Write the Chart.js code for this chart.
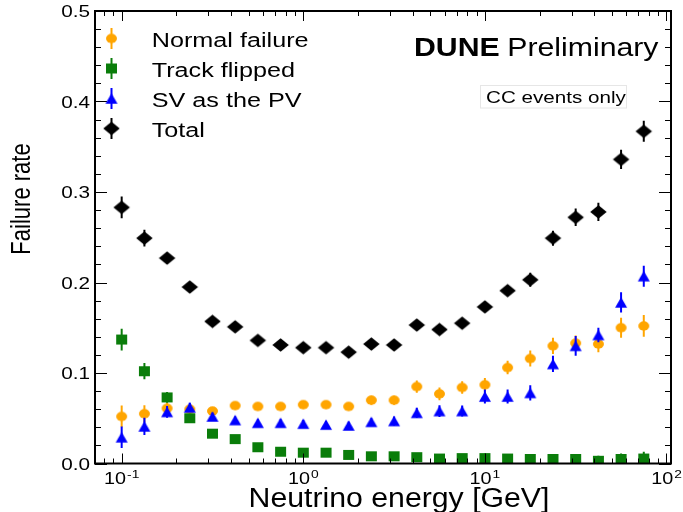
<!DOCTYPE html>
<html>
<head>
<meta charset="utf-8">
<script src="https://cdn.jsdelivr.net/npm/chart.js@4.4.1/dist/chart.umd.min.js"></script>
<style>
html, body { margin: 0; padding: 0; background: #ffffff; }
canvas { display: block; }
</style>
</head>
<body>
<canvas id="c" width="683" height="512"></canvas>
<script>
// ---------------- data ----------------
const energyGeV = [0.1, 0.1334, 0.1778, 0.2371, 0.3162, 0.4217, 0.5623, 0.7499,
                   1.0, 1.334, 1.778, 2.371, 3.162, 4.217, 5.623, 7.499,
                   10.0, 13.34, 17.78, 23.71, 31.62, 42.17, 56.23, 74.99];

const normalFailure    = [0.052, 0.055, 0.061, 0.060, 0.058, 0.064, 0.063, 0.063,
                          0.065, 0.065, 0.063, 0.070, 0.070, 0.085, 0.077, 0.084,
                          0.087, 0.106, 0.116, 0.130, 0.133, 0.132, 0.150, 0.152];
const normalFailureErr = [0.012, 0.0095, 0.0065, 0.005, 0.004, 0.004, 0.004, 0.004,
                          0.004, 0.004, 0.004, 0.005, 0.005, 0.0068, 0.007, 0.007,
                          0.0074, 0.0074, 0.0088, 0.009, 0.0083, 0.009, 0.011, 0.012];

const trackFlipped     = [0.137, 0.102, 0.073, 0.050, 0.033, 0.027, 0.018, 0.013,
                          0.012, 0.012, 0.0095, 0.008, 0.008, 0.007, 0.0055, 0.006,
                          0.006, 0.0055, 0.005, 0.005, 0.005, 0.003, 0.005, 0.0055];
const trackFlippedErr  = [0.012, 0.009, 0.006, 0.004, 0.003, 0.003, 0.003, 0.003,
                          0.003, 0.003, 0.003, 0.003, 0.004, 0.004, 0.004, 0.004,
                          0.005, 0.005, 0.005, 0.0055, 0.0055, 0.0055, 0.006, 0.0074];

const svAsPv           = [0.029, 0.041, 0.057, 0.062, 0.052, 0.048, 0.045, 0.045,
                          0.044, 0.043, 0.042, 0.046, 0.047, 0.056, 0.058, 0.058,
                          0.074, 0.074, 0.078, 0.110, 0.130, 0.142, 0.178, 0.207];
const svAsPvErr        = [0.012, 0.0095, 0.0065, 0.005, 0.004, 0.004, 0.004, 0.004,
                          0.004, 0.004, 0.004, 0.004, 0.005, 0.0055, 0.0065, 0.006,
                          0.0077, 0.0077, 0.0085, 0.009, 0.011, 0.008, 0.0112, 0.0116];

const totalRate        = [0.283, 0.249, 0.227, 0.195, 0.157, 0.151, 0.136, 0.131,
                          0.128, 0.128, 0.123, 0.132, 0.131, 0.153, 0.148, 0.155,
                          0.173, 0.191, 0.203, 0.249, 0.272, 0.278, 0.336, 0.367];
const totalRateErr     = [0.012, 0.0092, 0.006, 0.005, 0.004, 0.004, 0.004, 0.004,
                          0.004, 0.004, 0.004, 0.004, 0.004, 0.005, 0.005, 0.005,
                          0.005, 0.0055, 0.0077, 0.0083, 0.0097, 0.01, 0.0107, 0.0116];

const seriesNames  = ['Normal failure', 'Track flipped', 'SV as the PV', 'Total'];
const yTickValues  = [0, 0.1, 0.2, 0.3, 0.4, 0.5];
const yTickLabels  = ['0.0', '0.1', '0.2', '0.3', '0.4', '0.5'];
const xTickValues  = [0.1, 1, 10, 100];
const xTickBase    = ['10', '10', '10', '10'];
const xTickExp     = ['-1', '0', '1', '2'];
const xAxisTitle   = 'Neutrino energy [GeV]';
const yAxisTitle   = 'Failure rate';

// ---------------- styling helpers ----------------
const FONT = '"Liberation Sans", Arial, Helvetica, sans-serif';
const SX = 1.22; // horizontal text stretch of the reference

function makeMarker(shape, w, h, color) {
  const cw = Math.ceil(w) + 2, ch = Math.ceil(h) + 2;
  const c = document.createElement('canvas');
  c.width = cw; c.height = ch;
  const g = c.getContext('2d');
  g.fillStyle = color;
  const cx = cw / 2, cy = ch / 2;
  g.beginPath();
  if (shape === 'circle') g.ellipse(cx, cy, w / 2, h / 2, 0, 0, Math.PI * 2);
  else if (shape === 'square') g.rect(cx - w / 2, cy - h / 2, w, h);
  else if (shape === 'triangle') { g.moveTo(cx, cy - h / 2); g.lineTo(cx + w / 2, cy + h / 2); g.lineTo(cx - w / 2, cy + h / 2); g.closePath(); }
  else if (shape === 'diamond') { g.moveTo(cx, cy - h / 2); g.lineTo(cx + w / 2, cy); g.lineTo(cx, cy + h / 2); g.lineTo(cx - w / 2, cy); g.closePath(); }
  g.fill();
  return c;
}

const series = [
  { label: seriesNames[0], values: normalFailure, errors: normalFailureErr, color: '#ffa500', marker: makeMarker('circle', 11, 9.5, '#ffa500'), order: 4 },
  { label: seriesNames[1], values: trackFlipped,  errors: trackFlippedErr,  color: '#0a7d0a', marker: makeMarker('square', 11, 10, '#0a7d0a'), order: 3 },
  { label: seriesNames[2], values: svAsPv,        errors: svAsPvErr,        color: '#0000ff', marker: makeMarker('triangle', 12, 10.5, '#0000ff'), order: 2 },
  { label: seriesNames[3], values: totalRate,     errors: totalRateErr,     color: '#000000', marker: makeMarker('diamond', 16.5, 13.5, '#000000'), order: 1 }
];

function sText(ctx, txt, x, y, font, sx, align) {
  ctx.save();
  ctx.font = font;
  ctx.textBaseline = 'alphabetic';
  ctx.textAlign = 'left';
  const w = ctx.measureText(txt).width * sx;
  let x0 = x;
  if (align === 'right') x0 = x - w;
  else if (align === 'center') x0 = x - w / 2;
  ctx.translate(x0, y);
  ctx.scale(sx, 1);
  ctx.fillText(txt, 0, 0);
  ctx.restore();
  return w;
}
function textW(ctx, txt, font, sx) {
  ctx.save(); ctx.font = font; const w = ctx.measureText(txt).width * sx; ctx.restore(); return w;
}

// error bars, drawn under each dataset's markers
const errorBarPlugin = {
  id: 'errorBars',
  beforeDatasetDraw(chart, args) {
    const s = series[args.index];
    const ys = chart.scales.y;
    const a = chart.chartArea;
    const ctx = chart.ctx;
    ctx.save();
    ctx.beginPath(); ctx.rect(a.left, a.top, a.right - a.left, a.bottom - a.top); ctx.clip();
    ctx.strokeStyle = s.color;
    ctx.lineWidth = 2;
    args.meta.data.forEach((pt, i) => {
      const v = s.values[i], e = s.errors[i];
      ctx.beginPath();
      ctx.moveTo(pt.x, ys.getPixelForValue(v - e));
      ctx.lineTo(pt.x, ys.getPixelForValue(v + e));
      ctx.stroke();
    });
    ctx.restore();
  }
};

// ROOT-like frame, ticks, labels, legend and annotations
const framePlugin = {
  id: 'rootFrame',
  afterDraw(chart) {
    const ctx = chart.ctx;
    const a = chart.chartArea;
    const xs = chart.scales.x, ys = chart.scales.y;
    ctx.save();
    ctx.fillStyle = '#000';
    ctx.strokeStyle = '#000';

    // y ticks (left and right)
    ctx.lineWidth = 1;
    for (let k = 0; k <= 25; k++) {
      const v = k * 0.02;
      const py = Math.round(ys.getPixelForValue(v)) + 0.5;
      const len = (k % 5 === 0) ? 12 : 6;
      ctx.beginPath();
      ctx.moveTo(a.left, py); ctx.lineTo(a.left + len, py);
      ctx.moveTo(a.right, py); ctx.lineTo(a.right - len, py);
      ctx.stroke();
    }
    // x ticks (bottom and top), log decades with 2..9 minors
    for (let d = -2; d <= 2; d++) {
      for (let m = 1; m <= 9; m++) {
        const v = m * Math.pow(10, d);
        if (v < xs.min || v > xs.max) continue;
        const px = Math.round(xs.getPixelForValue(v)) + 0.5;
        const len = (m === 1) ? 10 : 5;
        ctx.beginPath();
        ctx.moveTo(px, a.bottom); ctx.lineTo(px, a.bottom - len);
        ctx.moveTo(px, a.top); ctx.lineTo(px, a.top + len);
        ctx.stroke();
      }
    }
    // frame
    ctx.lineWidth = 2;
    ctx.strokeRect(a.left, a.top, a.right - a.left, a.bottom - a.top);

    // y tick labels
    const yFont = '17px ' + FONT;
    yTickValues.forEach((v, i) => {
      const py = ys.getPixelForValue(v);
      sText(ctx, yTickLabels[i], a.left - 5, py + 6.1, yFont, SX, 'right');
    });
    // x tick labels: 10 with superscript exponent
    const bFont = '16.5px ' + FONT, eFont = '11.5px ' + FONT;
    xTickValues.forEach((v, i) => {
      const px = xs.getPixelForValue(v);
      const wb = textW(ctx, xTickBase[i], bFont, 1.2);
      const we = textW(ctx, xTickExp[i], eFont, 1.2);
      const x0 = px - (wb + 1 + we) / 2;
      sText(ctx, xTickBase[i], x0, a.bottom + 20, bFont, 1.2, 'left');
      sText(ctx, xTickExp[i], x0 + wb + 1, a.bottom + 14.3, eFont, 1.2, 'left');
    });

    // axis titles
    sText(ctx, xAxisTitle, (a.left + a.right) / 2 + 16, 506.5, '27px ' + FONT, 1.12, 'center');
    ctx.save();
    ctx.translate(30, 199);
    ctx.rotate(-Math.PI / 2);
    ctx.scale(1, 1.28);
    ctx.font = '22px ' + FONT;
    ctx.textAlign = 'center';
    ctx.textBaseline = 'alphabetic';
    ctx.fillText(yAxisTitle, 0, 0);
    ctx.restore();

    // legend
    const lFont = '20px ' + FONT;
    series.forEach((s, i) => {
      const my = 38.5 + 30 * i, mx = 111.5;
      ctx.strokeStyle = s.color;
      ctx.lineWidth = 2;
      ctx.beginPath(); ctx.moveTo(mx, my - 10.5); ctx.lineTo(mx, my + 10.5); ctx.stroke();
      ctx.drawImage(s.marker, mx - s.marker.width / 2, my - s.marker.height / 2);
      ctx.fillStyle = '#000';
      sText(ctx, s.label, 151.7, 46.5 + 30.2 * i, lFont, 1.26, 'left');
    });

    // DUNE Preliminary
    const dFont = 'bold 25px ' + FONT, pFont = '25px ' + FONT;
    const wd = sText(ctx, 'DUNE', 414, 56, dFont, 1.21, 'left');
    sText(ctx, 'Preliminary', 414 + wd + 7.5, 56, pFont, 1.21, 'left');

    // CC events only box
    ctx.fillStyle = '#ffffff';
    ctx.fillRect(480, 85, 147, 23.5);
    ctx.strokeStyle = '#e6e6e6';
    ctx.lineWidth = 1;
    ctx.strokeRect(480.5, 85.5, 146, 22.5);
    ctx.fillStyle = '#000';
    sText(ctx, 'CC events only', 486, 103.3, '16.5px ' + FONT, 1.25, 'left');

    ctx.restore();
  }
};

new Chart(document.getElementById('c'), {
  type: 'scatter',
  data: {
    datasets: series.map(s => ({
      label: s.label,
      data: energyGeV.map((e, i) => ({ x: e, y: s.values[i] })),
      showLine: false,
      pointStyle: s.marker,
      pointRadius: 6,
      pointHoverRadius: 6,
      borderWidth: 0,
      borderColor: s.color,
      backgroundColor: s.color,
      order: s.order,
      clip: 0
    }))
  },
  options: {
    responsive: false,
    animation: false,
    devicePixelRatio: 1,
    events: [],
    layout: { padding: { left: 95, top: 11, right: 12, bottom: 48.5 } },
    plugins: { legend: { display: false }, tooltip: { enabled: false }, title: { display: false } },
    scales: {
      x: { type: 'logarithmic', min: 0.0713, max: 105.9, display: false },
      y: { type: 'linear', min: 0, max: 0.5, display: false }
    }
  },
  plugins: [errorBarPlugin, framePlugin]
});
</script>
</body>
</html>
